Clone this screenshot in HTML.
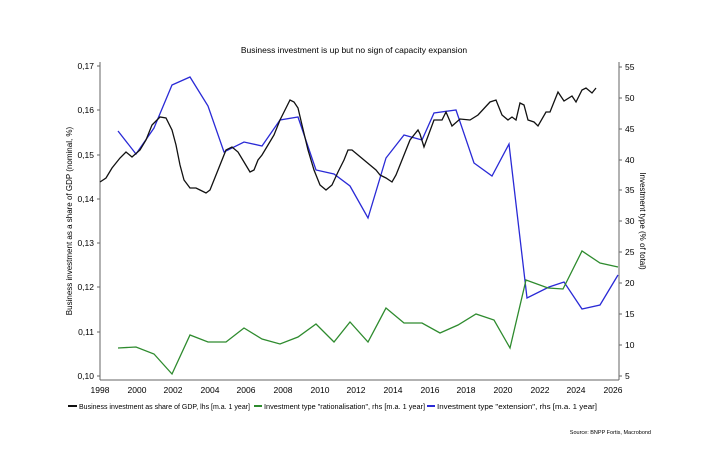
<!DOCTYPE html>
<html><head><meta charset="utf-8"><style>
body{margin:0;background:#fff;}
svg{display:block;font-family:"Liberation Sans",Arial,sans-serif;}
</style></head><body>
<svg width="708" height="472" viewBox="0 0 708 472" xmlns="http://www.w3.org/2000/svg">
<rect width="708" height="472" fill="#fff"/>
<text x="354" y="53" font-size="8.5" text-anchor="middle" fill="#000">Business investment is up but no sign of capacity expansion</text>
<g stroke="#666" stroke-width="1" fill="none">
<line x1="100" y1="62" x2="100" y2="380"/>
<line x1="619" y1="62" x2="619" y2="380"/>
<line x1="100" y1="380" x2="619" y2="380"/>
</g>
<g stroke="#666" stroke-width="1">
<line x1="97" y1="66" x2="100" y2="66"/><line x1="97" y1="110" x2="100" y2="110"/><line x1="97" y1="155" x2="100" y2="155"/><line x1="97" y1="199" x2="100" y2="199"/><line x1="97" y1="243" x2="100" y2="243"/><line x1="97" y1="287" x2="100" y2="287"/><line x1="97" y1="332" x2="100" y2="332"/><line x1="97" y1="376" x2="100" y2="376"/>
<line x1="619" y1="67" x2="622" y2="67"/><line x1="619" y1="98" x2="622" y2="98"/><line x1="619" y1="129" x2="622" y2="129"/><line x1="619" y1="160" x2="622" y2="160"/><line x1="619" y1="190" x2="622" y2="190"/><line x1="619" y1="221" x2="622" y2="221"/><line x1="619" y1="252" x2="622" y2="252"/><line x1="619" y1="283" x2="622" y2="283"/><line x1="619" y1="314" x2="622" y2="314"/><line x1="619" y1="345" x2="622" y2="345"/><line x1="619" y1="376" x2="622" y2="376"/>
</g>
<g font-size="8.5" fill="#000" text-anchor="end">
<text x="94" y="69">0,17</text><text x="94" y="113">0,16</text><text x="94" y="158">0,15</text><text x="94" y="202">0,14</text><text x="94" y="246">0,13</text><text x="94" y="290">0,12</text><text x="94" y="335">0,11</text><text x="94" y="379">0,10</text>
</g>
<g font-size="8.5" fill="#000">
<text x="625" y="70">55</text><text x="625" y="101">50</text><text x="625" y="132">45</text><text x="625" y="163">40</text><text x="625" y="193">35</text><text x="625" y="224">30</text><text x="625" y="255">25</text><text x="625" y="286">20</text><text x="625" y="317">15</text><text x="625" y="348">10</text><text x="625" y="379">5</text>
</g>
<g font-size="8.5" fill="#000" text-anchor="middle">
<text x="100" y="393">1998</text><text x="137" y="393">2000</text><text x="173" y="393">2002</text><text x="210" y="393">2004</text><text x="246" y="393">2006</text><text x="283" y="393">2008</text><text x="320" y="393">2010</text><text x="356" y="393">2012</text><text x="393" y="393">2014</text><text x="430" y="393">2016</text><text x="466" y="393">2018</text><text x="503" y="393">2020</text><text x="540" y="393">2022</text><text x="576" y="393">2024</text><text x="613" y="393">2026</text>
</g>
<text transform="translate(72,221) rotate(-90)" font-size="8" text-anchor="middle" fill="#000">Business investment as a share of GDP (nominal, %)</text>
<text transform="translate(640,221) rotate(90)" font-size="8" text-anchor="middle" fill="#000">Investment type (% of total)</text>
<polyline fill="none" stroke="#2a2ad6" stroke-width="1.3" points="118,131 136,154 154,128 172,85 190,77 208,106 224,152 244,142 262,146 280,120 298,117 316,170 334,174 350,186 368,218 386,158 404,135 422,140 434,113 456,110 474,163 492,176 509,144 527,298 549,287 564,282 582,309 600,305 618,275"/>
<polyline fill="none" stroke="#2e8b2e" stroke-width="1.3" points="118,348 136,347 154,354 172,374 190,335 208,342 226,342 244,328 262,339 280,344 298,337 316,324 334,342 350,322 368,342 386,308 404,323 422,323 440,333 458,325 476,314 494,320 510,348 526,280 548,288 563,289 582,251 600,263 618,267"/>
<polyline fill="none" stroke="#111" stroke-width="1.3" points="100,182 106,178 112,168 120,158 126,152 132,157 140,150 146,140 152,125 160,117 166,118 172,130 176,145 180,165 184,180 190,188 196,188 200,190 206,193 210,190 214,180 220,165 226,150 232,147 238,152 244,162 250,172 254,170 258,160 262,155 268,145 274,135 280,120 286,108 290,100 294,102 298,108 302,125 308,150 314,170 320,185 326,190 332,185 338,172 344,160 348,150 352,150 358,155 364,160 370,165 376,170 380,175 386,178 392,182 396,175 400,165 404,155 410,140 418,130 420,134 424,147 434,120 442,120 446,112 452,126 460,119 470,120 478,115 490,102 496,100 502,115 508,120 512,117 516,120 520,103 524,105 528,120 534,122 538,126 546,112 550,112 558,92 564,101 572,96 576,102 582,90 586,88 592,93 596,88"/>
<g font-size="7" fill="#000">
<line x1="68" y1="406" x2="77" y2="406" stroke="#111" stroke-width="2"/>
<text x="79" y="409" textLength="171" lengthAdjust="spacingAndGlyphs">Business investment as share of GDP, lhs [m.a. 1 year]</text>
<line x1="254" y1="406" x2="262" y2="406" stroke="#2e8b2e" stroke-width="2"/>
<text x="264" y="409" textLength="161" lengthAdjust="spacingAndGlyphs">Investment type "rationalisation", rhs [m.a. 1 year]</text>
<line x1="427" y1="406" x2="435" y2="406" stroke="#2a2ad6" stroke-width="2"/>
<text x="437" y="409" textLength="160" lengthAdjust="spacingAndGlyphs">Investment type "extension", rhs [m.a. 1 year]</text>
</g>
<text x="651" y="434" font-size="5.5" text-anchor="end" fill="#000">Source: BNPP Fortis, Macrobond</text>
</svg>
</body></html>
